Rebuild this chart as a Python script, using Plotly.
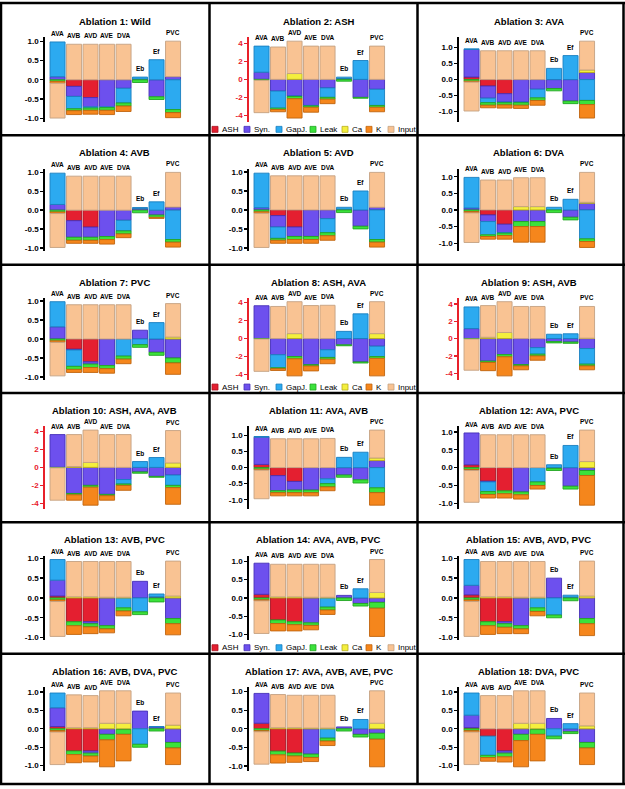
import plotly.graph_objects as go

neurons = ["AVA", "AVB", "AVD", "AVE", "DVA", "Eb", "Ef", "PVC"]
titles = ["Ablation 1: Wild", "Ablation 2: ASH", "Ablation 3: AVA",
          "Ablation 4: AVB", "Ablation 5: AVD", "Ablation 6: DVA",
          "Ablation 7: PVC", "Ablation 8: ASH, AVA", "Ablation 9: ASH, AVB",
          "Ablation 10: ASH, AVA, AVB", "Ablation 11: AVA, AVB", "Ablation 12: AVA, PVC",
          "Ablation 13: AVB, PVC", "Ablation 14: AVA, AVB, PVC", "Ablation 15: AVB, AVD, PVC",
          "Ablation 16: AVB, DVA, PVC", "Ablation 17: AVA, AVB, AVE, PVC", "Ablation 18: DVA, PVC"]
components = ["ASH", "Syn.", "GapJ.", "Leak", "Ca", "K", "Input"]

# one row per ablation panel, columns follow `neurons`
ash = [
    [0, -0.17, -0.46, 0, 0, 0, 0, 0],
    [0, 0, 0, 0, 0, 0, 0, 0],
    [0.08, -0.20, -0.44, 0, 0, 0, 0, 0],
    [0, -0.28, -0.45, 0, 0, 0, 0, 0],
    [0, -0.15, -0.45, 0, 0, 0, 0, 0],
    [0, -0.15, -0.43, 0, 0, 0, 0, 0],
    [0, -0.27, -0.60, 0, 0, 0, 0, 0],
    [0, 0, 0, 0, 0, 0, 0, 0],
    [0, 0, 0, 0, 0, 0, 0, 0],
    [0, 0, 0, 0, 0, 0, 0, 0],
    [0.10, -0.25, -0.43, 0, 0, 0, 0, 0],
    [0.08, -0.38, -0.65, 0, 0, 0, 0, 0],
    [0.05, -0.60, -0.60, 0, 0, 0, 0, 0],
    [0.10, -0.60, -0.65, 0, 0, 0, 0, 0],
    [0.08, -0.60, -0.60, 0, 0, 0, 0, 0],
    [0.06, -0.60, -0.60, 0, 0, 0, 0, 0],
    [0.15, -0.60, -0.65, 0, 0, 0, 0, 0],
    [0.03, -0.20, -0.60, 0, 0, 0, 0, 0],
]
syn = [
    [0.08, -0.26, -0.24, -0.70, -0.22, 0.02, -0.44, 0.08],
    [0.80, -1.30, -1.85, -2.90, -0.95, 0.10, -2.00, -1.10],
    [0.86, -0.38, -0.26, -0.70, -0.30, -0.28, -0.67, 0.22],
    [0.15, -0.44, -0.27, -0.70, -0.27, 0.04, -0.13, 0.08],
    [0.06, -0.30, -0.25, -0.70, -0.23, 0.02, -0.43, 0.07],
    [0.06, -0.20, -0.25, -0.35, -0.35, 0, -0.22, 0.20],
    [0.32, -0.02, -0.06, -0.70, 0, 0.23, -0.35, -0.50],
    [3.65, -1.80, -2.00, -2.90, -1.25, -0.70, -2.60, -0.85],
    [1.15, -2.60, -1.85, -3.00, -1.05, -0.35, -0.40, -1.15],
    [3.65, -2.90, -2.00, -3.00, -1.35, -0.50, -1.00, -0.85],
    [0.85, -0.47, -0.27, -0.70, -0.35, -0.23, -0.38, 0.22],
    [0.89, -0.02, 0, -0.68, 0, -0.02, -0.52, -0.08],
    [0.40, 0, -0.05, -0.70, 0, 0.42, 0.03, -0.52],
    [0.85, 0, 0, -0.68, 0, 0.07, -0.15, -0.12],
    [0.24, 0, -0.05, -0.70, 0, 0.50, 0.02, -0.52],
    [0.51, 0, -0.06, -0.15, 0, 0.48, 0.05, -0.37],
    [0.80, 0, 0, -0.68, 0, 0.05, -0.15, -0.12],
    [0.34, 0, -0.06, -0.15, 0, 0.28, -0.08, -0.37],
]
gapj = [
    [0.90, -0.32, -0.03, -0.02, -0.38, 0.05, 0.52, -0.77],
    [2.90, -1.90, -0.05, -0.05, -1.05, 0.15, 2.10, -1.80],
    [0.02, -0.14, -0.02, -0.02, -0.27, 0.35, 0.75, -0.65],
    [0.83, 0, 0, 0, -0.28, 0.03, 0.22, -0.78],
    [0.91, -0.30, 0, 0, -0.37, 0.05, 0.50, -0.78],
    [0.92, -0.40, -0.02, 0, 0, 0.08, 0.32, -0.87],
    [0.66, -0.43, 0, 0, -0.45, -0.15, 0.43, 0],
    [0, -1.45, 0, 0, -0.85, 0.80, 2.75, -1.15],
    [2.50, 0, 0, 0, -0.75, 0.50, 0.55, -1.80],
    [0, 0, 0, 0, -0.50, 0.65, 1.10, -1.15],
    [0.02, 0, 0, 0, -0.15, 0.32, 0.48, -0.63],
    [0, -0.27, 0, 0, -0.40, 0.08, 0.62, 0],
    [0.52, 0, 0, 0, -0.25, -0.35, 0.07, 0],
    [0, 0, 0, 0, -0.25, 0, 0.25, 0],
    [0.65, 0, 0, 0, -0.25, -0.43, 0.05, 0],
    [0.40, 0, 0, 0, -0.02, -0.42, 0.01, 0],
    [0, 0, 0, 0, -0.25, 0, 0.25, 0],
    [0.60, -0.52, 0, 0, -0.02, -0.20, 0.14, 0],
]
leak = [
    [-0.04, -0.05, -0.06, -0.07, -0.08, -0.07, -0.07, -0.08],
    [-0.10, -0.15, -0.25, -0.15, -0.20, -0.20, -0.10, -0.20],
    [-0.05, -0.08, -0.07, -0.08, -0.08, -0.07, -0.08, -0.13],
    [-0.05, -0.08, -0.08, -0.08, -0.08, -0.07, -0.06, -0.07],
    [-0.05, -0.05, -0.08, -0.08, -0.08, -0.07, -0.07, -0.07],
    [-0.05, -0.05, -0.07, -0.15, -0.15, -0.08, -0.08, -0.08],
    [-0.05, -0.08, -0.09, -0.08, -0.08, -0.07, -0.08, -0.13],
    [-0.05, -0.10, -0.25, -0.15, -0.20, -0.10, -0.12, -0.20],
    [-0.05, -0.15, -0.25, -0.15, -0.20, -0.15, -0.15, -0.20],
    [-0.05, -0.15, -0.20, -0.15, -0.15, -0.15, -0.10, -0.25],
    [-0.05, -0.06, -0.08, -0.08, -0.10, -0.07, -0.10, -0.15],
    [-0.05, -0.08, -0.08, -0.08, -0.10, -0.06, -0.08, -0.14],
    [-0.05, -0.10, -0.08, -0.08, -0.08, -0.07, -0.10, -0.13],
    [-0.05, -0.10, -0.08, -0.07, -0.08, -0.07, -0.07, -0.16],
    [-0.05, -0.10, -0.09, -0.08, -0.09, -0.07, -0.07, -0.13],
    [-0.05, -0.10, -0.08, -0.15, -0.13, -0.08, -0.06, -0.15],
    [-0.05, -0.10, -0.08, -0.09, -0.08, -0.06, -0.07, -0.16],
    [-0.05, -0.06, -0.10, -0.17, -0.13, -0.07, -0.05, -0.15],
]
ca = [
    [0, 0, 0, 0, 0, 0, 0, 0],
    [0, 0, 0.65, 0, 0, 0, 0, 0],
    [0, 0, 0, 0, 0, 0, 0, 0.08],
    [0, 0, 0, 0, 0, 0, 0, 0],
    [0, 0, 0, 0, 0, 0, 0, 0],
    [0, 0, 0, 0.10, 0.10, 0, 0, 0.03],
    [0, 0, 0, 0, 0, 0, 0, 0.05],
    [0, 0, 0.55, 0, 0, 0, 0, 0.55],
    [0, 0.15, 0.70, 0, 0, 0, 0, 0.05],
    [0, 0.10, 0.55, 0, 0, 0, 0, 0.50],
    [0, 0, 0, 0, 0, 0, 0, 0.08],
    [0, 0, 0, 0, 0, 0, 0, 0.17],
    [0, 0.03, 0.03, 0.02, 0.02, 0, 0, 0.05],
    [0, 0.03, 0.03, 0.02, 0.02, 0, 0, 0.15],
    [0, 0.03, 0.03, 0.02, 0.02, 0, 0, 0.05],
    [0, 0.03, 0.03, 0.15, 0.15, 0, 0, 0.10],
    [0, 0.03, 0.03, 0.02, 0.02, 0, 0, 0.15],
    [0, 0, 0, 0.15, 0.15, 0, 0, 0.08],
]
k_cur = [
    [-0.05, -0.10, -0.10, -0.11, -0.14, 0, 0, -0.13],
    [0, -0.25, -2.15, -0.55, -0.50, 0, 0, -0.50],
    [-0.03, -0.08, -0.10, -0.10, -0.15, 0, 0, -0.42],
    [-0.04, -0.08, -0.08, -0.12, -0.10, 0, -0.03, -0.13],
    [-0.04, -0.08, -0.10, -0.10, -0.12, 0, 0, -0.13],
    [-0.04, -0.08, -0.11, -0.47, -0.47, 0, 0, -0.18],
    [-0.04, -0.08, -0.13, -0.12, -0.12, 0, 0, -0.30],
    [0, -0.20, -1.90, -0.55, -0.50, 0, 0, -1.95],
    [0, -0.95, -2.20, -0.45, -0.50, 0, 0, -0.45],
    [0, -0.60, -2.00, -0.50, -0.55, 0, 0, -1.85],
    [-0.03, -0.10, -0.10, -0.10, -0.12, 0, 0, -0.39],
    [-0.03, -0.10, -0.12, -0.12, -0.10, 0, 0, -0.83],
    [-0.04, -0.22, -0.17, -0.10, -0.12, 0, 0, -0.28],
    [-0.03, -0.20, -0.17, -0.12, -0.12, 0, 0, -0.77],
    [-0.04, -0.22, -0.16, -0.12, -0.11, 0, 0, -0.30],
    [-0.04, -0.22, -0.16, -0.73, -0.72, 0, 0, -0.45],
    [-0.03, -0.22, -0.17, -0.11, -0.12, 0, 0, -0.74],
    [-0.04, -0.10, -0.14, -0.71, -0.72, 0, 0, -0.45],
]
inp = [
    [-0.90, 0.92, 0.92, 0.92, 0.92, 0, 0, 0.92],
    [-3.60, 3.60, 3.60, 3.70, 3.70, 0, 0, 3.70],
    [-0.90, 0.90, 0.90, 0.90, 0.90, 0, 0, 0.90],
    [-0.90, 0.90, 0.90, 0.90, 0.90, 0, 0, 0.92],
    [-0.90, 0.90, 0.90, 0.90, 0.90, 0, 0, 0.92],
    [-0.89, 0.90, 0.90, 0.87, 0.87, 0, 0, 0.90],
    [-0.88, 0.90, 0.90, 0.90, 0.90, 0, 0, 0.88],
    [-3.60, 3.57, 3.55, 3.67, 3.70, 0, 0, 3.55],
    [-3.60, 3.65, 3.55, 3.70, 3.70, 0, 0, 3.65],
    [-3.60, 3.55, 3.60, 3.65, 3.65, 0, 0, 3.60],
    [-0.89, 0.90, 0.90, 0.90, 0.91, 0, 0, 0.87],
    [-0.89, 0.92, 0.92, 0.92, 0.92, 0, 0, 0.88],
    [-0.88, 0.89, 0.89, 0.90, 0.90, 0, 0, 0.88],
    [-0.89, 0.89, 0.89, 0.90, 0.90, 0, 0, 0.90],
    [-0.88, 0.89, 0.89, 0.90, 0.90, 0, 0, 0.88],
    [-0.88, 0.89, 0.87, 0.88, 0.88, 0, 0, 0.87],
    [-0.87, 0.89, 0.87, 0.88, 0.88, 0, 0, 0.87],
    [-0.88, 0.90, 0.90, 0.88, 0.88, 0, 0, 0.89],
]
large_scale_panels = [2, 8, 9, 10]
legend_panels = [2, 8, 14]

series = [ash, syn, gapj, leak, ca, k_cur, inp]
fills = ["#e41f30", "#6d50ee", "#2caaf0", "#3be23b", "#f4ef3e", "#f5861c", "#f9c393"]
edges = ["#a81422", "#4630b8", "#1a7fbf", "#22a522", "#b8ad1e", "#c0640e", "#c4a282"]

W, H = 625, 789
FONT = "Liberation Sans, Arial, sans-serif"
axis_left_px = [45, 249, 459]
panel_left_px = [2, 210, 418]
row_top = [2, 134, 264, 393, 523, 655]
row_bot = [134, 264, 393, 523, 655, 786]
XR = [-0.76, 7.7]
PX_PER_CAT = 16.5
dom_w = (XR[1] - XR[0]) * PX_PER_CAT
RED = "#e8202a"

fig = go.Figure()
layout = dict(width=W, height=H, margin=dict(l=0, r=0, t=0, b=0),
              paper_bgcolor="white", plot_bgcolor="rgba(0,0,0,0)",
              barmode="relative", showlegend=False,
              font=dict(family=FONT, color="black"))
annotations = []
shapes = []

for p in range(18):
    n = p + 1
    r, c = divmod(p, 3)
    sfx = "" if n == 1 else str(n)
    xa, ya = "x" + sfx, "y" + sfx
    for j, comp in enumerate(components):
        vals = [v if v != 0 else None for v in series[j][p]]
        fig.add_trace(go.Bar(
            x=list(range(8)), y=vals, name=comp, width=0.91,
            marker=dict(color=fills[j], line=dict(color=edges[j], width=0.9)),
            xaxis=xa, yaxis=ya, showlegend=False, hoverinfo="skip"))
    pos_tot = [sum(max(s[p][i], 0) for s in series) for i in range(8)]
    neg_tot = [sum(min(s[p][i], 0) for s in series) for i in range(8)]
    ymax, ymin = max(pos_tot), min(neg_tot)
    pad = 0.05 * (ymax - ymin)
    big = n in large_scale_panels
    col = RED if big else "black"
    if big:
        tv = [-4, -2, 0, 2, 4]
        tt = ["-4", "-2", "0", "2", "4"]
    else:
        tv = [-1, -0.5, 0, 0.5, 1]
        tt = ["-1.0", "-0.5", "0.0", "0.5", "1.0"]
    x0 = axis_left_px[c]
    layout["xaxis" + sfx] = dict(domain=[x0 / W, (x0 + dom_w) / W], range=XR,
                                 visible=False, anchor=ya, fixedrange=True)
    ytop = row_top[r] + 33.5
    ybot = row_bot[r] - 13.5
    layout["yaxis" + sfx] = dict(
        domain=[1 - ybot / H, 1 - ytop / H], range=[ymin - pad, ymax + pad],
        anchor=xa, showline=True, linecolor=col, linewidth=1.8,
        ticks="outside", ticklen=3, tickwidth=1.3, tickcolor=col,
        tickvals=tv, ticktext=tt, showgrid=False, zeroline=False,
        tickfont=dict(size=8, color=col, family=FONT, weight="bold"),
        fixedrange=True)
    # bar labels
    for i, name in enumerate(neurons):
        annotations.append(dict(x=i, y=pos_tot[i], xref=xa, yref=ya, text="<b>%s</b>" % name,
                                showarrow=False, yanchor="bottom", yshift=3,
                                font=dict(size=6.5, family=FONT, color="black")))
    # title
    annotations.append(dict(x=(x0 + dom_w / 2) / W, y=1 - (row_top[r] + 17.5) / H,
                            xref="paper", yref="paper", text="<b>%s</b>" % titles[p],
                            showarrow=False, xanchor="center", yanchor="middle",
                            font=dict(size=9.5, family=FONT, color="black")))
    # legend
    if n in legend_panels:
        offs = [2, 34, 66, 100, 132, 156, 178]
        yc = row_bot[r] - 6
        for j, comp in enumerate(components):
            sx = panel_left_px[c] + offs[j]
            shapes.append(dict(type="rect", xref="paper", yref="paper",
                               x0=sx / W, x1=(sx + 6) / W,
                               y0=1 - (yc + 3) / H, y1=1 - (yc - 3) / H,
                               fillcolor=fills[j], line=dict(color=edges[j], width=0.8)))
            annotations.append(dict(x=(sx + 8) / W, y=1 - yc / H, xref="paper", yref="paper",
                                    text=comp, showarrow=False, xanchor="left", yanchor="middle",
                                    font=dict(size=8, family=FONT, color="black")))

# panel grid borders
for xp in [1, 209.5, 417.5, 623.5]:
    shapes.append(dict(type="line", xref="paper", yref="paper", x0=xp / W, x1=xp / W,
                       y0=1 - 0 / H, y1=1 - 786 / H, line=dict(color="black", width=2.5)))
for yp in [1, 134, 264, 393, 523, 655, 786]:
    shapes.append(dict(type="line", xref="paper", yref="paper", x0=0, x1=1,
                       y0=1 - yp / H, y1=1 - yp / H, line=dict(color="black", width=2.5)))

layout["annotations"] = annotations
layout["shapes"] = shapes
fig.update_layout(**layout)
fig.write_html("out.html", config={"displayModeBar": False, "staticPlot": True},
               post_script="document.body.style.margin='0';document.body.style.overflow='hidden';")
